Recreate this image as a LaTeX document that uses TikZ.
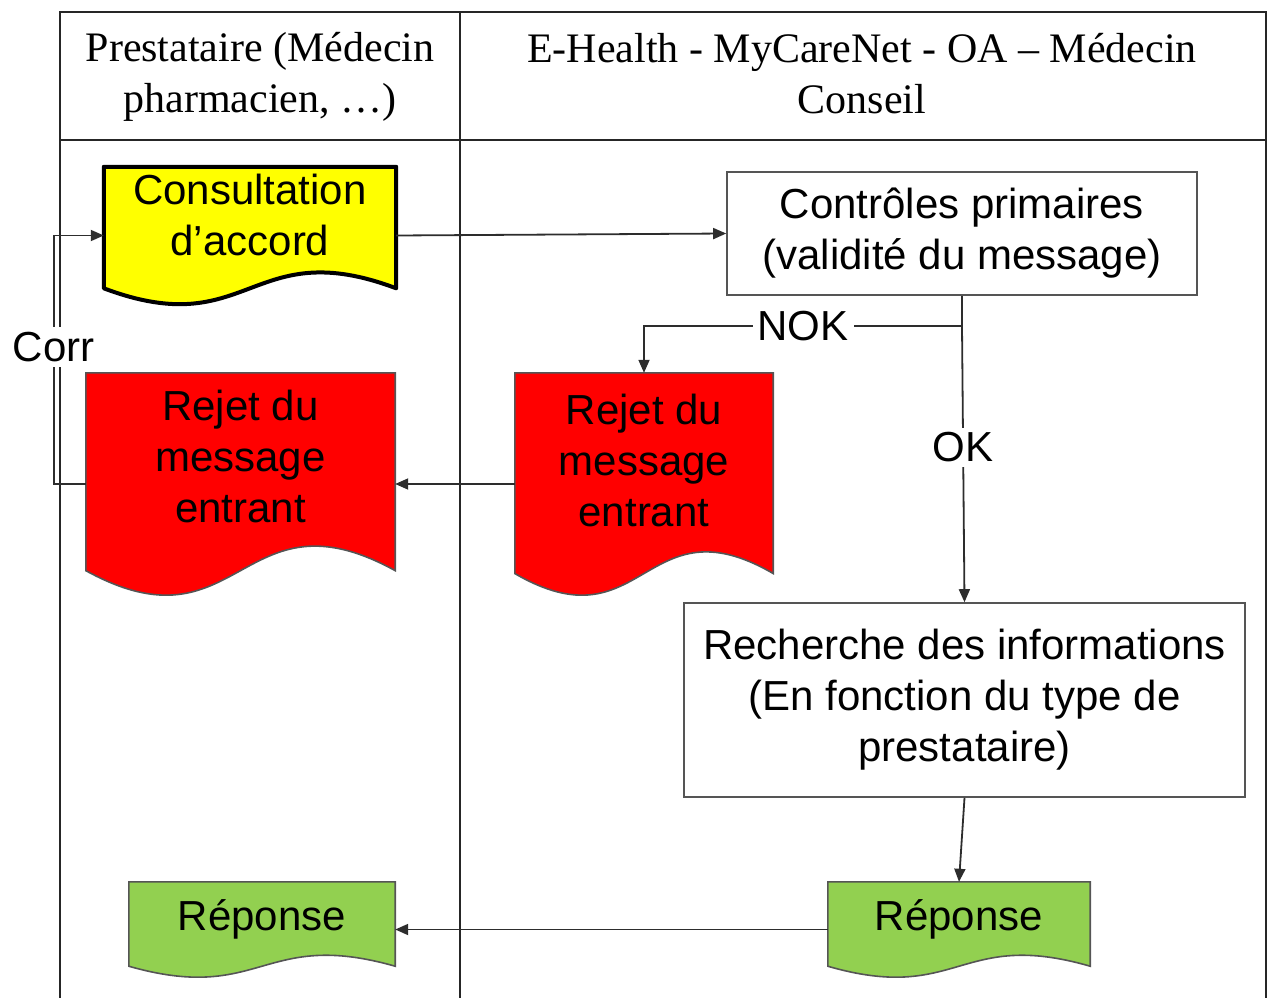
\documentclass[tikz,border=0pt]{standalone}
\usepackage{fontspec}
\setmainfont{Liberation Serif}
\setsansfont{Liberation Sans}
\usetikzlibrary{calc,arrows.meta,backgrounds}

\definecolor{docyellow}{RGB}{255,255,0}
\definecolor{docred}{RGB}{255,0,0}
\definecolor{docgreen}{RGB}{146,208,80}
\definecolor{edgegray}{RGB}{45,45,45}
\definecolor{boxgray}{RGB}{85,85,85}

% Document outline behind a node: flat top, wavy bottom.
% #1 node name, #2 path style, #3 control offset of the wave
\newcommand\docoutline[3]{%
  \pgfmathsetmacro\docdip{0.289*#3}%
  \path[#2] (#1.north west) -- (#1.north east)
    -- ($(#1.south east)+(0,-\docdip)$)
    .. controls ($(#1.south)+(0,-\docdip-#3)$) and ($(#1.south)+(0,-\docdip+#3)$)
    .. ($(#1.south west)+(0,-\docdip)$) -- cycle;}

\tikzset{
  sansbig/.style={font=\sffamily\fontsize{42}{51}\selectfont},
  lane/.style={draw=black!85, line width=2pt},
  procbox/.style={sansbig, draw=boxgray, line width=1.6pt, fill=white,
    inner sep=0pt, align=center},
  docnode/.style={sansbig, inner sep=0pt, align=center},
  raise text/.style={execute at end node={\rule[-#1pt]{0pt}{#1pt}}},
  hdr/.style={font=\rmfamily\fontsize{42}{51}\selectfont, align=center, inner sep=0pt},
  link/.style={draw=edgegray, line width=1.8pt},
  flow/.style={link, -{Triangle[length=13pt,width=11pt]}},
  lbl/.style={sansbig, fill=white, inner xsep=5pt, inner ysep=5pt, text=black},
}

\begin{document}
\begin{tikzpicture}[x=1pt, y=-1pt]
\useasboundingbox (0,0) rectangle (1269,998);

% column headers
\node[hdr] (hleft) at (260,77) {Prestataire (Médecin\\pharmacien, …)};
\node[hdr] (hright) at (862,74) {E-Health - MyCareNet - OA – Médecin\\Conseil};

% processing boxes
\node[procbox, minimum width=470pt, minimum height=123pt] (ctrl) at (962,233.5)
  {Contrôles primaires\\(validité du message)};
\node[procbox, minimum width=561pt, minimum height=194pt] (rech) at (964.5,700)
  {Recherche des informations\\(En fonction du type de\\prestataire)};

% documents
\node[docnode, minimum width=292pt, minimum height=137pt, raise text=42] (consult)
  at (250,235.5) {Consultation\\d’accord};
\node[docnode, minimum width=309pt, minimum height=222pt, raise text=56] (rejL)
  at (240.5,484) {Rejet du\\message\\entrant};
\node[docnode, minimum width=258pt, minimum height=222pt, raise text=48] (rejR)
  at (644,484) {Rejet du\\message\\entrant};
\node[docnode, minimum width=266pt, minimum height=95pt, raise text=28] (repL)
  at (262,929.5) {Réponse};
\node[docnode, minimum width=262pt, minimum height=95pt, raise text=28] (repR)
  at (959,929.5) {Réponse};

\begin{pgfonlayer}{background}
  % swimlane table
  \draw[lane] (60,998) -- (60,12) -- (1266,12) -- (1266,998);
  \draw[lane] (460,12) -- (460,998);
  \draw[lane, line width=2.5pt] (60,140) -- (1266,140);
  % document shapes
  \docoutline{consult}{fill=docyellow, draw=black, line width=4pt, line join=round}{55}
  \docoutline{rejL}{fill=docred, draw=boxgray, line width=1.6pt}{85}
  \docoutline{rejR}{fill=docred, draw=boxgray, line width=1.6pt}{75}
  \docoutline{repL}{fill=docgreen, draw=boxgray, line width=1.6pt}{38}
  \docoutline{repR}{fill=docgreen, draw=boxgray, line width=1.6pt}{38}
\end{pgfonlayer}

% connectors
\coordinate (split) at (ctrl.south |- 0,326);
\draw[flow] (consult.east) -- (ctrl.west);
\draw[link] (ctrl.south) -- (split);
\draw[flow] (split) -| node[lbl, pos=0.25] {NOK} (rejR.north);
\draw[flow] (split) -- node[lbl, pos=0.44] {OK} (rech.north);
\draw[flow] (rejR.west) -- (rejL.east);
\draw[flow] (rejL.west) -- ++(-32,0) |- node[lbl, pos=0.275] {Corr} (consult.west);
\draw[flow] (rech.south) -- (repR.north);
\draw[flow] (repR.west) -- (repL.east);
\end{tikzpicture}
\end{document}
